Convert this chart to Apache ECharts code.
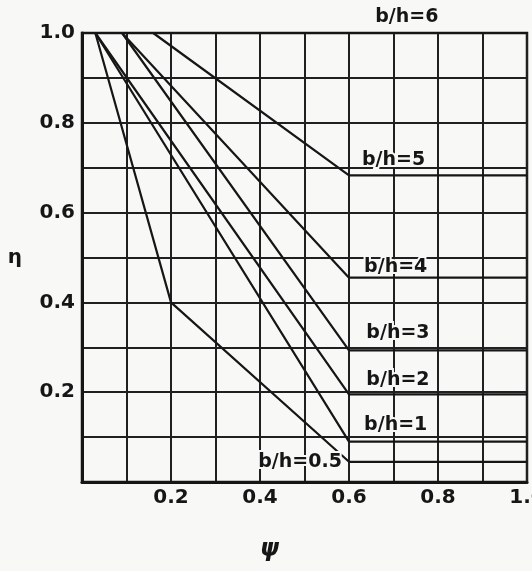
<!DOCTYPE html>
<html>
<head>
<meta charset="utf-8">
<script src="https://cdn.jsdelivr.net/npm/echarts@6/dist/echarts.min.js"></script>
<style>
    html, body { margin: 0; padding: 0; background: #f8f8f6; }
    #chart { width: 532px; height: 571px; }
</style>
</head>
<body>
<div id="chart"></div>
<script>
// curve names (b/h ratio)
var curveNames = ['b/h=0.5', 'b/h=1', 'b/h=2', 'b/h=3', 'b/h=4', 'b/h=5', 'b/h=6'];

// psi / eta
var psi05 = [0.03, 0.2, 0.6, 1.0];
var eta05 = [1.0, 0.4, 0.045, 0.045];
var psi1 = [0.03, 0.6, 1.0];
var eta1 = [1.0, 0.09, 0.09];
var psi2 = [0.03, 0.6, 1.0];
var eta2 = [1.0, 0.195, 0.195];
var psi3 = [0.09, 0.6, 1.0];
var eta3 = [1.0, 0.293, 0.293];
var psi4 = [0.09, 0.6, 1.0];
var eta4 = [1.0, 0.455, 0.455];
var psi5 = [0.16, 0.6, 1.0];
var eta5 = [1.0, 0.683, 0.683];
var psi6 = [0.0, 1.0];
var eta6 = [1.0, 1.0];

var psiList = [psi05, psi1, psi2, psi3, psi4, psi5, psi6];
var etaList = [eta05, eta1, eta2, eta3, eta4, eta5, eta6];

// tick labels shown on the axes
var xTickLabels = ['0.2', '0.4', '0.6', '0.8', '1.0'];
var yTickLabels = ['0.2', '0.4', '0.6', '0.8', '1.0'];

// where each curve label sits (psi on the axis, pixel lift above the curve end)
var labelPsi = [0.49, 0.705, 0.71, 0.71, 0.705, 0.70, 0.73];
var labelLift = [0, -17, -14, -17, -11, -15, -16];

var ink = '#161616';
var font = "'DejaVu Sans', sans-serif";

function tickText(list) {
    return function (v) {
        var s = v.toFixed(1);
        return list.indexOf(s) >= 0 ? s : '';
    };
}

var series = [];
for (var i = 0; i < curveNames.length; i++) {
    var pts = [];
    for (var j = 0; j < psiList[i].length; j++) {
        pts.push([psiList[i][j], etaList[i][j]]);
    }
    var endEta = etaList[i][etaList[i].length - 1];
    series.push({
        name: curveNames[i],
        type: 'line',
        data: pts,
        symbol: 'none',
        clip: false,
        lineStyle: { color: ink, width: 2.2 },
        z: 3,
        markPoint: {
            symbol: 'circle',
            symbolSize: 0,
            silent: true,
            label: {
                show: true,
                position: 'inside',
                offset: [0, labelLift[i]],
                formatter: curveNames[i],
                color: ink,
                fontFamily: font,
                fontSize: 19,
                fontWeight: 'bold',
                textBorderColor: '#f8f8f6',
                textBorderWidth: 4
            },
            data: [{ coord: [labelPsi[i], endEta] }]
        }
    });
}

var myChart = echarts.init(document.getElementById('chart'));
myChart.setOption({
    backgroundColor: '#f8f8f6',
    animation: false,
    grid: {
        left: 82,
        top: 33,
        width: 445,
        height: 449,
        outerBoundsMode: 'none',
        containLabel: false,
        show: true,
        borderColor: ink,
        borderWidth: 2.5,
        backgroundColor: 'transparent'
    },
    xAxis: {
        type: 'value',
        min: 0,
        max: 1,
        interval: 0.1,
        axisLine: { show: true, lineStyle: { color: ink, width: 3 } },
        axisTick: { show: false },
        splitLine: { show: true, lineStyle: { color: '#202020', width: 2 } },
        axisLabel: {
            formatter: tickText(xTickLabels),
            color: ink,
            fontFamily: font,
            fontSize: 20,
            fontWeight: 'bold',
            margin: 6
        }
    },
    yAxis: {
        type: 'value',
        min: 0,
        max: 1,
        interval: 0.1,
        name: 'η',
        nameLocation: 'middle',
        nameRotate: 0,
        nameGap: 60,
        nameTextStyle: { color: ink, fontFamily: font, fontSize: 20, fontWeight: 'bold' },
        axisLine: { show: true, lineStyle: { color: ink, width: 3 } },
        axisTick: { show: false },
        splitLine: { show: true, lineStyle: { color: '#202020', width: 2 } },
        axisLabel: {
            formatter: tickText(yTickLabels),
            color: ink,
            fontFamily: font,
            fontSize: 20,
            fontWeight: 'bold',
            margin: 7
        }
    },
    graphic: [{
        type: 'text',
        left: 260,
        top: 538,
        style: {
            text: 'ψ',
            fill: ink,
            font: 'italic bold 24px ' + font
        }
    }],
    series: series
});
</script>
</body>
</html>
